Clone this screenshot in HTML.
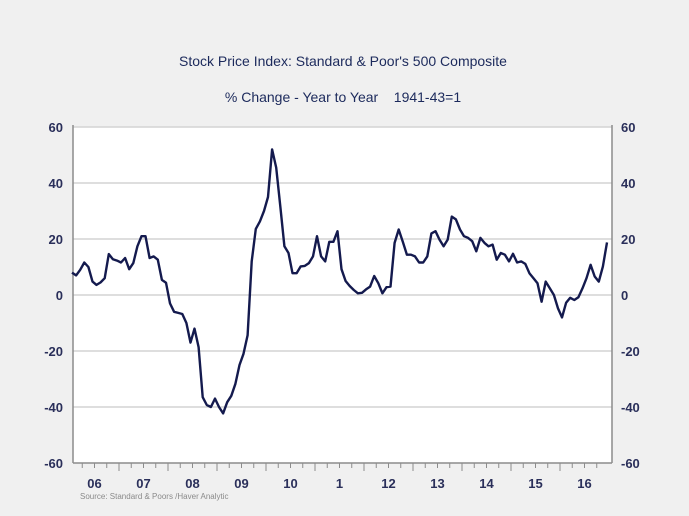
<!DOCTYPE html>
<html><head><meta charset="utf-8"><style>
html,body{margin:0;padding:0;background:#f0f0f0;}
svg{display:block;font-family:"Liberation Sans",sans-serif;}
</style></head><body>
<svg id="chart" width="689" height="516">
<rect x="0" y="0" width="689" height="516" fill="#f0f0f0"/>
<text x="343" y="66" text-anchor="middle" font-size="14" fill="#1c2a5c">Stock Price Index: Standard &amp; Poor's 500 Composite</text>
<text x="343" y="102" text-anchor="middle" font-size="14" fill="#1c2a5c">% Change - Year to Year &#160;&#160;&#160;1941-43=1</text>
<rect x="73" y="127" width="539" height="336" fill="#ffffff"/>
<g id="grid"></g>
<g id="axes"></g>
<path id="series" fill="none" stroke="#141a4e" stroke-width="2.4" stroke-linejoin="round"/>
<text x="80" y="499" font-size="8" fill="#8a8a8a">Source:  Standard &amp; Poors /Haver Analytic</text>
</svg>
<script>
const values = [8,7,9,11.6,10,4.8,3.6,4.5,6,14.6,12.8,12.3,11.6,13.2,9.2,11.4,17.4,21,21,13.2,13.8,12.6,5.4,4.4,-3,-6,-6.4,-6.8,-10,-17,-12,-18.6,-36.5,-39.3,-40,-37,-40,-42.3,-38.3,-36,-31.7,-25,-21,-14.4,12,23.6,26.3,30,35,52,45.5,31.7,17.4,15,7.8,7.8,10.2,10.4,11.4,13.8,21,13.8,12,19,19,22.8,9.2,5,3.2,1.8,0.6,0.8,2,3,6.8,4.2,0.6,2.8,3,18.6,23.4,19,14.4,14.4,13.8,11.6,11.6,13.8,22,22.8,19.8,17.4,19.8,28,27,23.4,21,20.4,19.2,15.6,20.4,18.6,17.4,18,12.6,15,14.4,12,14.7,11.6,12,11.1,7.8,6,4.2,-2.4,4.8,2.4,0,-4.8,-8,-2.8,-1,-1.8,-0.8,2.4,6,10.8,6.6,4.8,10.2,18.8];
const yTicks = [60,40,20,0,-20,-40,-60];
const yearLabels = ["06","07","08","09","10","1","12","13","14","15","16"];
const X0=70, YEARW=49, YTOP=127, YBOT=463, XL=73, XR=612;
function xScale(i){return X0+(i+0.5)*YEARW/12;}
function yScale(v){return YTOP+(60-v)*(YBOT-YTOP)/120;}
const NS="http://www.w3.org/2000/svg";
const grid=document.getElementById('grid'), axes=document.getElementById('axes');
function mk(tag,attrs,parent){const e=document.createElementNS(NS,tag);for(const k in attrs)e.setAttribute(k,attrs[k]);parent.appendChild(e);return e;}
yTicks.forEach(v=>{
  const y=yScale(v);
  if(v!==-60){const g=mk('line',{x1:XL,x2:XR,y1:y,y2:y,stroke:'#d4d4d4','stroke-width':1.5},grid);
  
  }
  const l=mk('text',{x:63,y:y+5,'text-anchor':'end','font-size':13,'font-weight':'bold',fill:'#2a2f5a'},axes);
  l.textContent=v;
  
  
  const r=mk('text',{x:621,y:y+5,'text-anchor':'start','font-size':13,'font-weight':'bold',fill:'#2a2f5a'},axes);
  r.textContent=v;
  
  
});
const la=mk('line',{x1:XL,x2:XL,y1:YTOP-2,y2:YBOT,stroke:'#8c8c8c','stroke-width':1.5},axes);


const ra=mk('line',{x1:XR,x2:XR,y1:YTOP-2,y2:YBOT,stroke:'#8c8c8c','stroke-width':1.5},axes);


const ba=mk('line',{x1:XL,x2:XR,y1:YBOT,y2:YBOT,stroke:'#8c8c8c','stroke-width':1.5},axes);


yearLabels.forEach((lab,k)=>{
  for(let q=0;q<4;q++){
    const x=X0+k*YEARW+q*YEARW/4;
    if(x<XL||x>XR) continue;
    const t=mk('line',{x1:x,x2:x,y1:YBOT,y2:YBOT+(q===0?8:5),stroke:'#8c8c8c','stroke-width':1},axes);
    
    
  }
  const tx=mk('text',{x:X0+k*YEARW+YEARW/2,y:YBOT+25,'text-anchor':'middle','font-size':13,'font-weight':'bold',fill:'#2a2f5a'},axes);
  tx.textContent=lab;
  
  
});
document.getElementById('series').setAttribute('d',values.map((v,i)=>(i?'L':'M')+xScale(i).toFixed(1)+','+yScale(v).toFixed(1)).join(''));
</script>
</body></html>
